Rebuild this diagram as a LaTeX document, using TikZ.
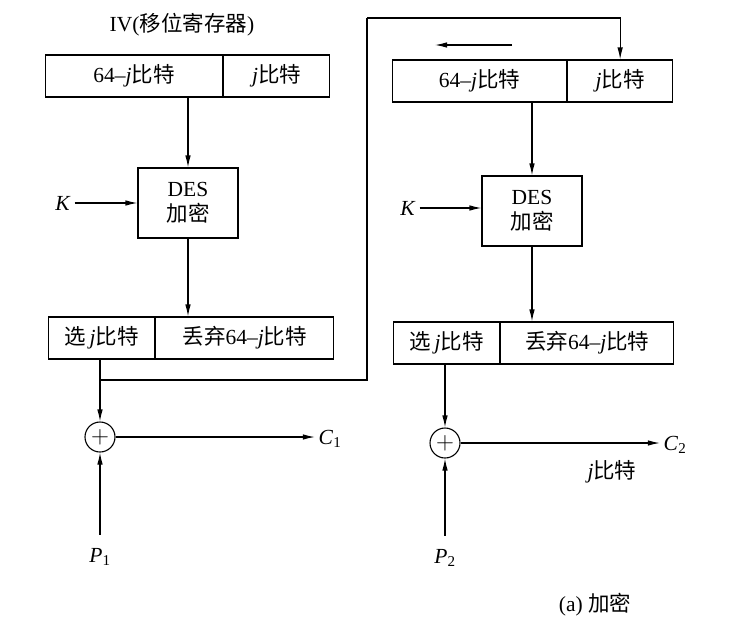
\documentclass[tikz,border=0pt]{standalone}
\usepackage{fontspec}
\setmainfont{Liberation Serif}
\newfontfamily\cjk{Noto Sans CJK SC}
\usetikzlibrary{arrows.meta}
\usetikzlibrary{positioning}
\begin{document}
\begin{tikzpicture}[x=1pt,y=-1pt,->,>={Latex[length=12pt,width=5.5pt]},line width=1.1pt,
		every node/.style={font=\fontsize{21.5}{25}\selectfont},
		cell/.style={draw,minimum height=42pt,inner sep=0pt,anchor=west},
		desbox/.style={draw,minimum width=100pt,minimum height=70pt,align=center,inner sep=0pt},
		xorsum/.style={draw,circle,minimum size=30pt,inner sep=0pt,font=\fontsize{26}{26}\selectfont}]
		\useasboundingbox (0,0) rectangle (738,643);
		% left stage
		\node (iv) at (182,25) {IV({\cjk 移位寄存器})};
		\node[cell,minimum width=177pt] (rl) at (45,76) {64--\textit{j}{\cjk 比特}};
		\node[cell,minimum width=106pt] (rlj) at (rl.east) {\textit{j}{\cjk 比特}};
		\node[desbox] (des1) at (188,203) {DES\\{\cjk 加密}};
		\node (k1) at (63,203) {\textit{K}};
		\node[cell,minimum width=106pt] (sl) at (48,338) {{\cjk 选}\,\textit{j}{\cjk 比特}};
		\node[cell,minimum width=178pt] (dl) at (sl.east) {{\cjk 丢弃}64--\textit{j}{\cjk 比特}};
		\node[xorsum] (x1) at (100,437) {$+$};
		\node (c1) at (330,439) {\textit{C}\textsubscript{1}};
		\node (p1) at (100,557) {\textit{P}\textsubscript{1}};
		\draw  (des1 |- rl.south) -- (des1);
		\draw  (k1) -- (k1 -| des1.west);
		\draw  (des1) -- (des1 |- dl.north);
		\draw  (x1 |- sl.south) -- (x1);
		\draw  (x1) -- (x1 -| c1.west);
		\draw  ([yshift=10pt]p1.north) -- (x1);
		% feedback to right register
		\coordinate (fb) at (100,380);
		\coordinate (fbup) at (367,18);
		% right stage
		\node[cell,minimum width=174pt] (rr) at (392,81) {64--\textit{j}{\cjk 比特}};
		\node[cell,minimum width=105pt] (rrj) at (rr.east) {\textit{j}{\cjk 比特}};
		\coordinate (sh1) at (512,45);
		\coordinate (sh2) at (435,45);
		\node[desbox] (des2) at (532,211) {DES\\{\cjk 加密}};
		\node (k2) at (408,208) {\textit{K}};
		\node[cell,minimum width=106pt] (sr) at (393,343) {{\cjk 选}\,\textit{j}{\cjk 比特}};
		\node[cell,minimum width=173pt] (dr) at (sr.east) {{\cjk 丢弃}64--\textit{j}{\cjk 比特}};
		\node[xorsum] (x2) at (445,443) {$+$};
		\node (c2) at (675,445) {\textit{C}\textsubscript{2}};
		\node (jb) at (612,472) {\textit{j}{\cjk 比特}};
		\node (p2) at (445,558) {\textit{P}\textsubscript{2}};
		\node (cap) at (595,605) {(a) {\cjk 加密}};
		\draw[-]  (fb) -| (fbup);
		\draw  (fbup) -| (rrj.north);
		\draw  (sh1) -- (sh2);
		\draw  (des2 |- rr.south) -- (des2);
		\draw  (k2) -- (k2 -| des2.west);
		\draw  (des2) -- (des2 |- dr.north);
		\draw  (x2 |- sr.south) -- (x2);
		\draw  (x2) -- (x2 -| c2.west);
		\draw  ([yshift=10pt]p2.north) -- (x2);
\end{tikzpicture}
\end{document}
